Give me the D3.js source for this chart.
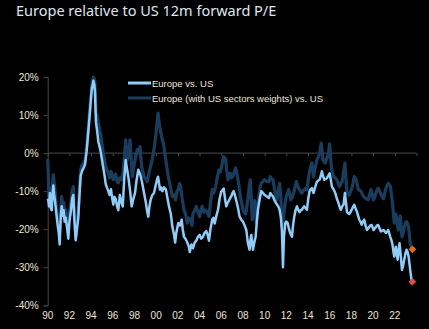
<!DOCTYPE html>
<html>
<head>
<meta charset="utf-8">
<script src="https://cdn.jsdelivr.net/npm/d3@7"></script>
<style>
  html, body { margin: 0; padding: 0; background: #000; }
  svg { display: block; }
  .tick-label { font-family: "Liberation Sans", Arial, sans-serif; font-size: 10px; fill: #ece4dc; }
  .legend-label { font-family: "Liberation Sans", Arial, sans-serif; font-size: 9.5px; fill: #ece4dc; }
</style>
</head>
<body>
<div id="chart"></div>
<script>
// Europe vs. US, relative 12m forward P/E (% premium / discount), [year, value]
const europeVsUs = [
  [1990.00,-12],[1990.06,-12.5],[1990.12,-14],[1990.2,-10.5],[1990.3,-14.5],[1990.37,-15],[1990.45,-10.5],
  [1990.52,-8.5],[1990.6,-11],[1990.67,-12.5],[1990.8,-16],[1990.92,-19],[1991.02,-21],[1991.1,-24],
  [1991.2,-17],[1991.29,-14],[1991.38,-16.5],[1991.47,-15],[1991.56,-18],[1991.66,-17],[1991.8,-20],
  [1991.9,-22.5],[1992.0,-18],[1992.15,-15],[1992.25,-12],[1992.36,-11],[1992.45,-17],[1992.58,-22.9],
  [1992.7,-20],[1992.82,-17],[1992.95,-10],[1993.04,-6],[1993.19,-4.5],[1993.3,-4],[1993.44,-3],
  [1993.59,0.5],[1993.74,5.5],[1993.9,11],[1994.05,16.5],[1994.21,19],[1994.3,18],[1994.36,16],
  [1994.45,8],[1994.55,6],[1994.67,3],[1994.8,1.5],[1994.91,0],[1995.02,-2],[1995.13,-4],[1995.25,-6],
  [1995.34,-8],[1995.45,-9],[1995.59,-10],[1995.7,-11],[1995.83,-9.5],[1995.95,-12],[1996.05,-13.5],
  [1996.15,-11.5],[1996.26,-12],[1996.4,-14],[1996.51,-15],[1996.65,-11],[1996.8,-13],[1996.92,-14],
  [1997.05,-7],[1997.19,-1.8],[1997.3,-4],[1997.43,-6.2],[1997.6,-10],[1997.74,-14],[1997.9,-12],
  [1998.05,-10.5],[1998.2,-7],[1998.35,-4.4],[1998.45,-5],[1998.57,-6],[1998.72,-8],[1998.88,-10.5],
  [1999.05,-13],[1999.18,-15.5],[1999.27,-16.7],[1999.38,-14],[1999.49,-12.3],[1999.65,-11],
  [1999.80,-10.5],[1999.95,-8.5],[2000.08,-7],[2000.17,-6.2],[2000.27,-8],[2000.35,-9.6],[2000.45,-9],
  [2000.57,-10],[2000.72,-9],[2000.90,-9.6],[2001.05,-12],[2001.18,-14],[2001.35,-16],[2001.49,-19.3],
  [2001.65,-21.5],[2001.75,-23.5],[2001.85,-21],[2002.04,-18.4],[2002.2,-19],[2002.35,-17.5],[2002.45,-20],
  [2002.56,-22],[2002.7,-22.5],[2002.87,-23.5],[2003.0,-24.5],[2003.1,-26],[2003.25,-24],[2003.39,-25],
  [2003.55,-23.5],[2003.70,-23],[2003.85,-22],[2004.01,-21.5],[2004.15,-22.5],[2004.31,-22],
  [2004.45,-21],[2004.62,-20.5],[2004.75,-21.5],[2004.87,-23],[2005.0,-20],[2005.17,-17.5],
  [2005.28,-17],[2005.39,-18.5],[2005.55,-16.5],[2005.70,-14.9],[2005.85,-12],[2006.0,-10.1],
  [2006.1,-9.8],[2006.22,-9.3],[2006.35,-12],[2006.46,-14],[2006.6,-13],[2006.71,-12.5],[2006.82,-11.8],
  [2006.92,-11.4],[2007.03,-10.5],[2007.14,-10],[2007.25,-11],[2007.39,-12.5],[2007.55,-14.5],
  [2007.69,-16.7],[2007.85,-17.5],[2008.0,-18],[2008.15,-19],[2008.31,-20.2],[2008.46,-23.7],
  [2008.61,-25.4],[2008.68,-23],[2008.77,-21.5],[2008.85,-23.5],[2008.92,-25.4],[2009.05,-23.5],
  [2009.17,-22],[2009.28,-18],[2009.38,-14.9],[2009.55,-12],[2009.69,-10],[2009.85,-10.5],
  [2010.0,-11],[2010.21,-11.4],[2010.4,-11.8],[2010.52,-10.5],[2010.65,-11],[2010.77,-11.4],
  [2010.92,-12.5],[2011.07,-13.2],[2011.25,-14],[2011.38,-14.9],[2011.5,-17],[2011.59,-20.2],
  [2011.69,-30],[2011.78,-22],[2011.90,-18.4],[2012.0,-18],[2012.12,-18.4],[2012.25,-20],[2012.36,-21],
  [2012.52,-22],[2012.62,-19],[2012.73,-16.7],[2012.85,-15],[2012.98,-14],[2013.1,-15],[2013.22,-15.5],
  [2013.33,-15],[2013.44,-14.9],[2013.55,-14.3],[2013.65,-14],[2013.78,-14.5],[2013.90,-14.9],
  [2014.02,-12],[2014.14,-10],[2014.25,-9.5],[2014.36,-9.2],[2014.44,-10],[2014.51,-10.5],[2014.65,-9],
  [2014.82,-7.5],[2014.95,-7.2],[2015.07,-7],[2015.18,-6],[2015.28,-4.8],[2015.38,-6],[2015.50,-7],
  [2015.62,-6.8],[2015.74,-6.6],[2015.86,-6],[2015.99,-5.3],[2016.1,-7],[2016.20,-8.8],[2016.35,-9.5],
  [2016.51,-10.5],[2016.66,-12],[2016.82,-13.2],[2016.95,-14.5],[2017.03,-14.9],[2017.15,-14],
  [2017.28,-13.5],[2017.40,-10.5],[2017.5,-13],[2017.59,-15.5],[2017.70,-15.8],[2017.80,-16],
  [2017.92,-15.5],[2018.02,-14.9],[2018.14,-14.2],[2018.26,-13.6],[2018.38,-14.5],[2018.51,-15.4],
  [2018.62,-16.5],[2018.72,-17.5],[2018.83,-18],[2018.94,-18.8],[2019.06,-18],[2019.18,-17.5],
  [2019.3,-19],[2019.43,-20.2],[2019.54,-19.8],[2019.64,-19.4],[2019.75,-19],[2019.86,-18.9],
  [2019.95,-19.5],[2020.04,-20.2],[2020.15,-19.8],[2020.26,-19.4],[2020.36,-19],[2020.47,-18.9],
  [2020.6,-19.8],[2020.72,-20.6],[2020.84,-20.4],[2020.96,-20.2],[2021.07,-20.6],[2021.18,-21],
  [2021.29,-20.6],[2021.39,-20.2],[2021.48,-21],[2021.58,-22],[2021.7,-23],[2021.79,-24.1],
  [2021.88,-26],[2021.95,-27.2],[2022.03,-25.5],[2022.10,-24.6],[2022.18,-26.5],[2022.26,-28],
  [2022.35,-25.5],[2022.44,-23.7],[2022.55,-27],[2022.66,-30.7],[2022.77,-29.5],[2022.87,-28],
  [2022.97,-26.5],[2023.08,-25.4],[2023.18,-26],[2023.27,-27.2],[2023.35,-29],[2023.42,-30.7],
  [2023.5,-32.5],[2023.58,-34.5]
];

// Europe (with US sectors weights) vs. US
const europeSectorAdj = [
  [1990.00,-1.5],[1990.06,-6],[1990.12,-12],[1990.2,-9],[1990.3,-13],[1990.37,-12.3],[1990.45,-8],
  [1990.52,-5.7],[1990.6,-8],[1990.67,-9.6],[1990.8,-14],[1990.92,-16.7],[1991.0,-18],[1991.1,-21],
  [1991.2,-15],[1991.29,-11.4],[1991.38,-14],[1991.47,-13],[1991.56,-16],[1991.66,-14.9],[1991.8,-18],
  [1991.9,-21],[1992.0,-16],[1992.15,-13],[1992.25,-10],[1992.36,-8.8],[1992.45,-15],[1992.58,-22],
  [1992.7,-18],[1992.82,-15],[1992.95,-8],[1993.04,-4.4],[1993.19,-3],[1993.3,-2.5],[1993.44,-1.8],
  [1993.59,1.7],[1993.74,6.6],[1993.9,12.3],[1994.05,17.5],[1994.21,20],[1994.3,19.5],[1994.36,18.4],
  [1994.45,10.5],[1994.55,10],[1994.67,7.9],[1994.8,6],[1994.91,4.4],[1995.02,2],[1995.13,0],
  [1995.25,-2],[1995.34,-3.5],[1995.45,-4.5],[1995.59,-5.2],[1995.7,-6.5],[1995.83,-4.8],[1995.95,-6],
  [1996.05,-7],[1996.15,-6],[1996.26,-5.5],[1996.4,-7.5],[1996.51,-7.8],[1996.65,-6.5],[1996.8,-7],
  [1996.95,-5],[1997.1,0],[1997.19,3.5],[1997.34,-1.8],[1997.48,0],[1997.59,3.5],[1997.7,-2],
  [1997.8,-6.2],[1997.92,-4],[1998.05,-1.8],[1998.15,-0.5],[1998.26,0.9],[1998.4,0],[1998.51,1.7],
  [1998.66,-3.5],[1998.78,-5],[1998.88,-6.2],[1999.05,-6.8],[1999.18,-7.5],[1999.35,-5],[1999.49,-3.5],
  [1999.62,-2],[1999.74,0],[1999.85,2],[1999.95,4.4],[2000.08,8],[2000.17,10.5],[2000.25,8.5],
  [2000.32,7],[2000.42,5.5],[2000.5,4.4],[2000.62,3],[2000.72,1.7],[2000.82,-0.5],[2000.93,-2.6],
  [2001.05,-5],[2001.18,-7],[2001.33,-9],[2001.49,-11.4],[2001.65,-11],[2001.79,-12.3],[2001.92,-10],
  [2002.04,-9.6],[2002.15,-8],[2002.26,-8.8],[2002.4,-12],[2002.56,-14.9],[2002.7,-16],[2002.87,-18.4],
  [2003.0,-17],[2003.18,-17.5],[2003.3,-19],[2003.39,-16],[2003.55,-15],[2003.70,-14],[2003.85,-15.5],
  [2004.01,-16.7],[2004.12,-15],[2004.25,-14],[2004.4,-15.5],[2004.56,-15],[2004.7,-15.5],
  [2004.87,-16.7],[2005.0,-13],[2005.17,-9.6],[2005.3,-10.5],[2005.48,-9],[2005.62,-6.5],[2005.79,-4.4],
  [2005.9,-5],[2006.0,-4],[2006.1,-2.5],[2006.22,-0.9],[2006.3,-1.2],[2006.40,-1.5],[2006.5,-4.5],
  [2006.62,-7],[2006.72,-5.5],[2006.83,-5.3],[2006.95,-6.5],[2007.08,-6],[2007.2,-5],[2007.32,-3.9],
  [2007.42,-5],[2007.54,-7],[2007.65,-9],[2007.75,-11.4],[2007.88,-13],[2008.0,-14.9],[2008.12,-15.5],
  [2008.25,-16],[2008.36,-14],[2008.46,-12],[2008.57,-9],[2008.68,-7],[2008.77,-12],[2008.86,-17.5],
  [2008.97,-15],[2009.08,-12.5],[2009.15,-15],[2009.23,-18.4],[2009.35,-14],[2009.47,-11.4],
  [2009.58,-9],[2009.69,-7.9],[2009.85,-7.5],[2010.0,-7],[2010.21,-7.5],[2010.4,-7.5],[2010.52,-6.2],
  [2010.65,-6.8],[2010.77,-7],[2010.88,-9],[2010.98,-10.5],[2011.13,-12.3],[2011.25,-10],[2011.38,-8],
  [2011.5,-12],[2011.59,-19.3],[2011.67,-18],[2011.75,-16.5],[2011.87,-13.5],[2011.99,-11.4],
  [2012.1,-10.5],[2012.21,-9.6],[2012.32,-11],[2012.42,-12.3],[2012.55,-11.5],[2012.67,-10.5],
  [2012.8,-9],[2012.92,-7.5],[2013.03,-8.5],[2013.13,-9.2],[2013.28,-10],[2013.44,-10.5],[2013.56,-9.8],
  [2013.68,-9.6],[2013.8,-9.2],[2013.90,-9.6],[2014.02,-7],[2014.14,-4.8],[2014.25,-3.5],[2014.36,-2.6],
  [2014.44,-4.5],[2014.51,-6.2],[2014.65,-4],[2014.82,-1.8],[2014.95,-1],[2015.07,0],[2015.15,1.5],
  [2015.22,2.6],[2015.3,0.5],[2015.37,-1.8],[2015.48,-2.2],[2015.59,-2.6],[2015.7,-1.5],[2015.80,-0.9],
  [2015.9,0.5],[2015.99,2.4],[2016.07,-0.5],[2016.14,-3.5],[2016.25,-5],[2016.36,-6.2],[2016.5,-6.5],
  [2016.66,-7],[2016.78,-8],[2016.91,-8.8],[2017.03,-7.9],[2017.15,-7.5],[2017.28,-5],[2017.4,-2.6],
  [2017.5,-7],[2017.59,-10.5],[2017.7,-10.8],[2017.80,-11],[2017.92,-10],[2018.02,-9.5],[2018.14,-8],
  [2018.26,-6.2],[2018.34,-6.5],[2018.42,-7],[2018.52,-8],[2018.63,-9.5],[2018.76,-9.8],[2018.88,-10],
  [2019.0,-10.8],[2019.12,-11.4],[2019.23,-11.7],[2019.34,-12],[2019.45,-12.1],[2019.55,-12.3],
  [2019.67,-11],[2019.80,-9.6],[2019.92,-11],[2020.04,-12.3],[2020.15,-11.5],[2020.26,-10.5],
  [2020.36,-9.8],[2020.47,-9.2],[2020.6,-10],[2020.72,-10.8],[2020.84,-11.5],[2020.96,-12],
  [2021.07,-10.5],[2021.18,-9.2],[2021.29,-8.5],[2021.39,-7.9],[2021.48,-8.2],[2021.58,-8.6],
  [2021.7,-11],[2021.79,-13.2],[2021.88,-16],[2021.95,-18.4],[2022.03,-17],[2022.10,-16],[2022.2,-18],
  [2022.32,-20.2],[2022.41,-18],[2022.50,-16.5],[2022.58,-19],[2022.66,-22],[2022.77,-21],
  [2022.87,-19.6],[2022.97,-18.5],[2023.08,-18],[2023.18,-18.5],[2023.27,-19.6],[2023.35,-21.5],
  [2023.42,-23.7],[2023.5,-24.5],[2023.58,-25.3]
];

// latest readings, highlighted with diamonds
const latestPoints = [
  {year: 2023.62, value: -25.3, color: '#e46c0a'},
  {year: 2023.62, value: -33.8, color: '#dc4b52'}
];

const yTicks = [20, 10, 0, -10, -20, -30, -40];
const xTickYears = d3.range(1990, 2025, 2);
const xLabelYears = d3.range(1990, 2023, 2);

const legendItems = [
  {label: 'Europe vs. US', color: '#8fcdf8', width: 2.5},
  {label: 'Europe (with US sectors weights) vs. US', color: '#1a3d5e', width: 3.2}
];

const width = 429, height = 329;
const svg = d3.select('#chart').append('svg')
  .attr('width', width)
  .attr('height', height)
  .style('background', '#000');

svg.append('text')
  .attr('x', 16)
  .attr('y', 16)
  .attr('font-family', '"Noto Sans", sans-serif')
  .attr('font-size', 14.5)
  .attr('fill', '#dde6ef')
  .text('Europe relative to US 12m forward P/E');

const x = d3.scaleLinear().domain([1990, 2024]).range([47.7, 416.5]);
const y = d3.scaleLinear().domain([-40, 20]).range([305.3, 77]);

const axisColor = '#4a4a4a';

// y axis on the left
const yAxis = svg.append('g')
  .attr('transform', `translate(${x(1990)},0)`)
  .call(d3.axisLeft(y).tickValues(yTicks).tickSize(4).tickPadding(5)
    .tickFormat(d => d + '%'));
yAxis.select('.domain').attr('stroke', axisColor);
yAxis.selectAll('.tick line').attr('stroke', axisColor);
yAxis.selectAll('.tick text').attr('class', 'tick-label').attr('font-size', null).attr('font-family', null);

// horizontal line through 0% carrying the year ticks
const xAxis = svg.append('g')
  .attr('transform', `translate(0,${y(0)})`)
  .call(d3.axisBottom(x).tickValues(xTickYears).tickSize(3).tickFormat(''));
xAxis.select('.domain').attr('stroke', axisColor).attr('d', `M${x(1990)},0H${x(2024)}`);
xAxis.selectAll('.tick line').attr('stroke', axisColor);

// year labels along the bottom
svg.append('g')
  .selectAll('text')
  .data(xLabelYears)
  .join('text')
  .attr('class', 'tick-label')
  .attr('x', d => x(d))
  .attr('y', 319)
  .attr('text-anchor', 'middle')
  .text(d => String(d % 100).padStart(2, '0'));

const line = d3.line()
  .x(d => x(d[0]))
  .y(d => y(d[1]))
  .curve(d3.curveLinear);

svg.append('path')
  .datum(europeSectorAdj)
  .attr('fill', 'none')
  .attr('stroke', legendItems[1].color)
  .attr('stroke-width', legendItems[1].width)
  .attr('stroke-linejoin', 'round')
  .attr('d', line);

svg.append('path')
  .datum(europeVsUs)
  .attr('fill', 'none')
  .attr('stroke', legendItems[0].color)
  .attr('stroke-width', legendItems[0].width)
  .attr('stroke-linejoin', 'round')
  .attr('d', line);

svg.append('g')
  .selectAll('path')
  .data(latestPoints)
  .join('path')
  .attr('d', d3.symbol(d3.symbolSquare, 30))
  .attr('transform', d => `translate(${x(d.year)},${y(d.value)}) rotate(45)`)
  .attr('fill', d => d.color);

// legend
const legend = svg.append('g').attr('transform', 'translate(128,83)');
const li = legend.selectAll('g')
  .data(legendItems)
  .join('g')
  .attr('transform', (d, i) => `translate(0,${i * 15})`);
li.append('line')
  .attr('x1', 0).attr('x2', 23)
  .attr('stroke', d => d.color)
  .attr('stroke-width', 3);
li.append('text')
  .attr('class', 'legend-label')
  .attr('x', 24)
  .attr('y', 3.5)
  .text(d => d.label);
</script>
</body>
</html>
